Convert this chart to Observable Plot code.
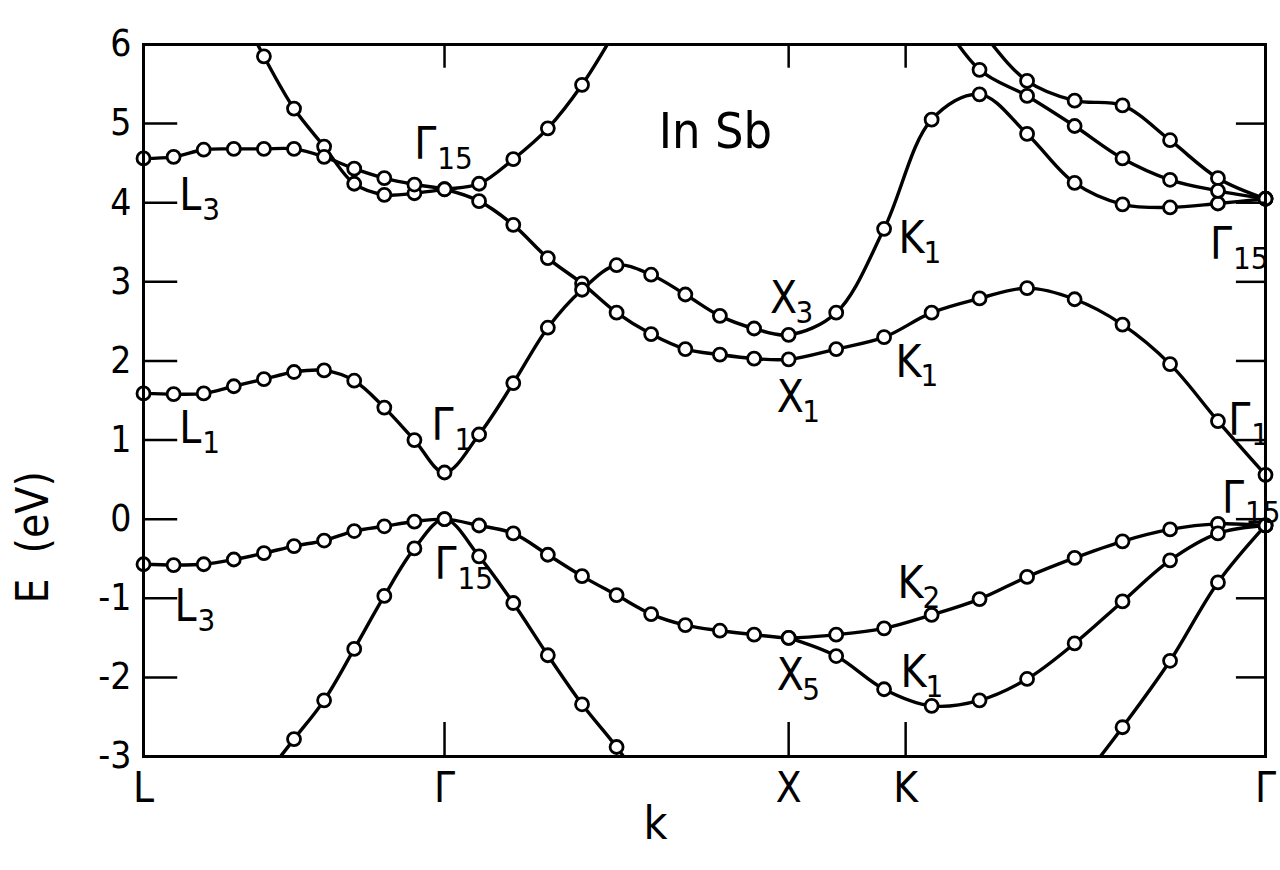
<!DOCTYPE html>
<html><head><meta charset="utf-8">
<script src="https://cdn.jsdelivr.net/npm/d3@7"></script>
<script src="https://cdn.jsdelivr.net/npm/@observablehq/plot@0.6"></script>
<style>body{margin:0;background:#fff}</style>
</head><body><div id="chart"></div>
<script>
const _ = null;
// k grid (L -> Gamma -> X -> K -> Gamma)
const kGrid = [0, 0.088, 0.176, 0.264, 0.352, 0.440, 0.528, 0.616, 0.704, 0.792, 0.880,
  0.981, 1.081, 1.182, 1.282, 1.383, 1.484, 1.584, 1.685, 1.785, 1.886,
  2.025, 2.165, 2.304, 2.444, 2.583, 2.722, 2.862, 3.001, 3.141, 3.280];
const kTicks = [0, 0.880, 1.886, 2.228, 3.280];
const kTickLabels = ["L", "Γ", "X", "K", "Γ"];
const eTicks = [-3, -2, -1, 0, 1, 2, 3, 4, 5, 6];

// Band energies (eV) on kGrid
const bandS1 = [_,_,_,6.6,5.85,5.19,4.71,4.24,4.10,4.12,4.17, 4.24,4.55,4.94,5.49,6.2,_,_,_,_,_, _,_,_,_,_,_,_,_,_,_];
const bandS2 = [4.56,4.58,4.67,4.68,4.68,4.68,4.58,4.43,4.31,4.23,4.17, 4.02,3.72,3.30,2.98,2.61,2.34,2.15,2.08,2.03,2.02, 2.15,2.30,2.61,2.79,2.92,2.78,2.46,1.96,1.24,0.56];
const bandS3 = [1.59,1.58,1.59,1.68,1.77,1.86,1.88,1.75,1.41,1.00,0.59, 1.07,1.72,2.42,2.90,3.21,3.09,2.84,2.57,2.41,2.33, 2.61,3.67,5.05,5.37,4.87,4.25,3.98,3.94,3.99,4.05];
const bandS4A = [_,_,_,_,_,_,_,_,_,_,_, _,_,_,_,_,_,_,_,_,_, _,_,7.0,6.2,5.54,5.29,5.23,4.79,4.31,4.05];
const bandS4B = [_,_,_,_,_,_,_,_,_,_,_, _,_,_,_,_,_,_,_,_,_, _,_,6.5,5.68,5.35,4.97,4.56,4.29,4.15,4.05];
const bandV1 = [-0.57,-0.58,-0.57,-0.51,-0.43,-0.34,-0.27,-0.15,-0.09,-0.03,0.0, -0.08,-0.18,-0.45,-0.72,-0.96,-1.20,-1.34,-1.41,-1.46,-1.50, -1.46,-1.38,-1.21,-1.01,-0.73,-0.49,-0.28,-0.13,-0.06,-0.08];
const bandV2 = [_,_,_,_,_,_,_,_,_,_,_, _,_,_,_,_,_,_,_,_,-1.50, -1.73,-2.15,-2.36,-2.29,-2.02,-1.57,-1.04,-0.52,-0.18,-0.08];
const bandV3 = [_,_,_,_,-3.27,-2.78,-2.29,-1.64,-0.97,-0.37,0.0, -0.47,-1.06,-1.72,-2.34,-2.88,-3.5,_,_,_,_, _,_,_,_,_,_,_,_,_,_];
const bandV4 = [_,_,_,_,_,_,_,_,_,_,_, _,_,_,_,_,_,_,_,_,_, _,_,_,_,_,-3.42,-2.63,-1.79,-0.80,-0.08];

// Labels
const labelMain = ["Γ","L","L","Γ","X","X","K","K","Γ","Γ","Γ","L","Γ","K","K","X"];
const labelSub  = ["15","3","1","1","3","1","1","1","15","1","15","3","15","2","1","5"];
const labelK = [0.824,0.137,0.137,0.874,1.871,1.891,2.245,2.236,3.150,3.203,3.185,0.123,0.883,2.242,2.251,1.891];
const labelE = [4.73,4.09,1.14,1.18,2.78,1.53,3.54,1.98,3.47,1.24,0.25,-1.11,-0.58,-0.82,-1.94,-1.98];
const titleText = ["In Sb"], titleK = [1.672], titleE = [4.90];

const bands = {S1: bandS1, S2: bandS2, S3: bandS3, S4A: bandS4A, S4B: bandS4B, V1: bandV1, V2: bandV2, V3: bandV3, V4: bandV4};
const rows = [];
for (const [name, vals] of Object.entries(bands)) {
  vals.forEach((e, i) => { if (e !== null) rows.push({band: name, k: kGrid[i], E: e}); });
}
const dots = rows.filter(d => d.E >= -3.05 && d.E <= 6.05);

const FONT = "'Liberation Sans Narrow','DejaVu Sans Condensed','Liberation Sans',sans-serif";
const innerE = eTicks.filter(d => d > -3 && d < 6);
const innerK = kTicks.slice(1, 4);

const chart = Plot.plot({
  width: 1280, height: 870,
  marginLeft: 143, marginRight: 15, marginTop: 44, marginBottom: 114,
  x: {domain: [0, 3.28]},
  y: {domain: [-3, 6]},
  style: {fontFamily: FONT, background: "white", color: "black"},
  marks: [
    Plot.line(rows, {x: "k", y: "E", z: "band", curve: "catmull-rom", stroke: "black", strokeWidth: 3.4, clip: true}),
    Plot.dot(dots, {x: "k", y: "E", r: 6.5, stroke: "black", strokeWidth: 2.8, fill: "white"}),
    Plot.frame({stroke: "black", strokeWidth: 3}),
    Plot.ruleY(innerE, {y: d => d, x1: 0, x2: 0.1, stroke: "black", strokeWidth: 2.5}),
    Plot.ruleY(innerE, {y: d => d, x1: 3.195, x2: 3.28, stroke: "black", strokeWidth: 2.5}),
    Plot.ruleX(innerK, {x: d => d, y1: 5.7, y2: 6, stroke: "black", strokeWidth: 2.5}),
    Plot.ruleX(innerK, {x: d => d, y1: -3, y2: -2.57, stroke: "black", strokeWidth: 2.5}),
    Plot.axisY({ticks: eTicks, tickSize: 0, tickPadding: 12, fontSize: 37, tickFormat: d => String(d), label: null}),
    Plot.axisX({ticks: kTicks, tickSize: 0, tickPadding: 16, fontSize: 42, tickFormat: d => kTickLabels[kTicks.indexOf(d)], label: null}),
    Plot.text(labelMain, {x: labelK, y: labelE, text: Plot.identity, fontSize: 44, lineAnchor: "middle"}),
    Plot.text(labelSub, {x: labelK, y: labelE, text: Plot.identity, fontSize: 31, textAnchor: "start", lineAnchor: "middle", dx: 12, dy: 14}),
    Plot.text(titleText, {x: titleK, y: titleE, text: Plot.identity, fontSize: 50, lineAnchor: "middle"}),
    Plot.text(["E\u00a0\u00a0(eV)"], {x: [-0.32], y: [-0.23], text: Plot.identity, fontSize: 44, rotate: -90, lineAnchor: "middle"}),
    Plot.text(["k"], {x: [1.497], y: [-3.86], text: Plot.identity, fontSize: 46, lineAnchor: "middle"})
  ]
});
document.getElementById("chart").appendChild(chart);
</script>
</body></html>
